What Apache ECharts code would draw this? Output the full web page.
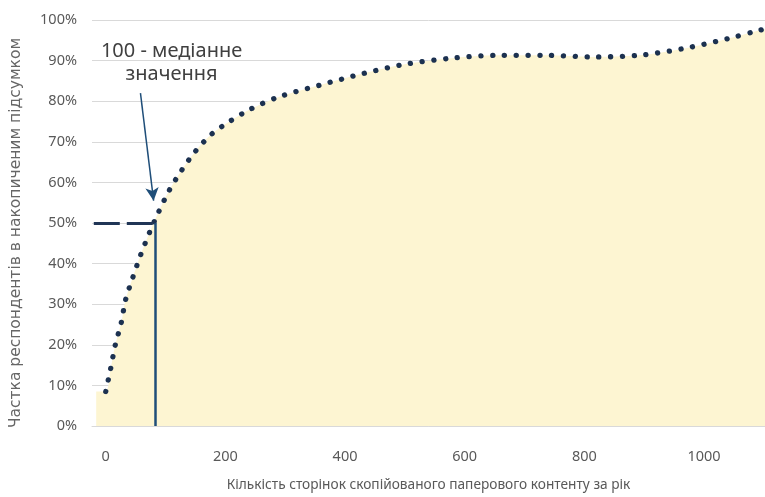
<!DOCTYPE html>
<html>
<head>
<meta charset="utf-8">
<script src="https://cdn.jsdelivr.net/npm/echarts@6/dist/echarts.min.js"></script>
<style>
html,body{margin:0;padding:0;background:#fff;}
#chart{width:765px;height:497px;}
</style>
</head>
<body>
<div id="chart"></div>
<script>
// Cumulative share curve (x = pages per year, y = % of respondents)
const pages = [0, 8, 16, 26, 33, 45, 58, 73, 88, 106, 127, 149, 177, 207, 240, 288, 359, 430, 504, 579, 656, 736, 813, 891, 967, 1040, 1091, 1102];
const shares = [8.5, 14, 20, 25.5, 31, 36.5, 42, 47.6, 52.6, 58, 63, 67.5, 71.9, 75, 77.9, 81, 84, 86.8, 89.2, 90.6, 91.3, 91.3, 90.9, 91.3, 93, 95.4, 97.4, 97.8];
const xTicks = [0, 200, 400, 600, 800, 1000];
const medianX = 83;      // where the median marker sits on the x scale
const medianShare = 50;
const xMin = -23, xMax = 1102;
const annotationText = '100 - медіанне\nзначення';
const xName = 'Кількість сторінок скопійованого паперового контенту за рік';
const yName = 'Частка респондентів в накопиченим підсумком';

const curve = pages.map((p, i) => [p, shares[i]]);
const fillCurve = [[xMin + 7, shares[0]]].concat(curve);

const chart = echarts.init(document.getElementById('chart'));
const font = 'Noto Sans';
chart.setOption({
  animation: false,
  backgroundColor: '#ffffff',
  grid: {left: 84, right: 0, top: 20, bottom: 61, containLabel: false},
  xAxis: {
    type: 'value', min: xMin, max: xMax,
    name: xName, nameLocation: 'middle', nameGap: 52,
    nameTextStyle: {color: '#595959', fontSize: 13.7, fontFamily: font},
    axisLine: {show: true, lineStyle: {color: '#d9d9d9'}},
    axisTick: {show: false},
    splitLine: {show: false},
    axisLabel: {customValues: xTicks, formatter: v => String(v), color: '#595959', fontSize: 14.5, fontFamily: font, margin: 23}
  },
  yAxis: {
    type: 'value', min: 0, max: 100, interval: 10,
    name: yName, nameLocation: 'middle', nameGap: 68, nameRotate: 90,
    nameTextStyle: {color: '#666666', fontSize: 15.5, fontFamily: 'DejaVu Sans', padding: [0, 20, 0, 0]},
    axisLine: {show: false}, axisTick: {show: false},
    splitLine: {lineStyle: {color: '#d9d9d9', width: 1}},
    axisLabel: {formatter: '{value}%', color: '#595959', fontSize: 14.5, fontFamily: font, margin: 15}
  },
  series: [
    {
      type: 'line',
      data: fillCurve,
      smooth: 0.3,
      showSymbol: false,
      lineStyle: {width: 0, opacity: 0},
      areaStyle: {color: '#fdf5d2', opacity: 1},
      z: 2
    },
    {
      type: 'line',
      data: curve,
      smooth: 0.3,
      showSymbol: false,
      lineStyle: {color: '#1c3150', width: 5.3, type: [0.1, 11.7], cap: 'round'},
      z: 3
    },
    {
      type: 'line',
      data: [],
      markLine: {
        silent: true,
        animation: false,
        label: {show: false},
        data: [
          [{coord: [xMin + 3, medianShare], symbol: 'none', lineStyle: {color: '#203556', width: 3, type: [26, 7]}},
           {coord: [medianX, medianShare], symbol: 'none'}],
          [{coord: [medianX, 0], symbol: 'none', lineStyle: {color: '#1f4e79', width: 2.5, type: 'solid'}},
           {coord: [medianX, medianShare], symbol: 'none'}],
          [{coord: [58, 82], symbol: 'none', lineStyle: {color: '#1f4e79', width: 1.5, type: 'solid'}},
           {coord: [80, 55.5], symbol: 'arrow', symbolSize: [10, 13]}]
        ]
      },
      markPoint: {
        silent: true,
        symbol: 'circle', symbolSize: 0,
        label: {show: true, formatter: annotationText, color: '#404040', fontSize: 20, fontFamily: font, lineHeight: 23, align: 'center', position: 'inside'},
        data: [{coord: [110, 89.4]}]
      },
      z: 4
    }
  ]
});
</script>
</body>
</html>
